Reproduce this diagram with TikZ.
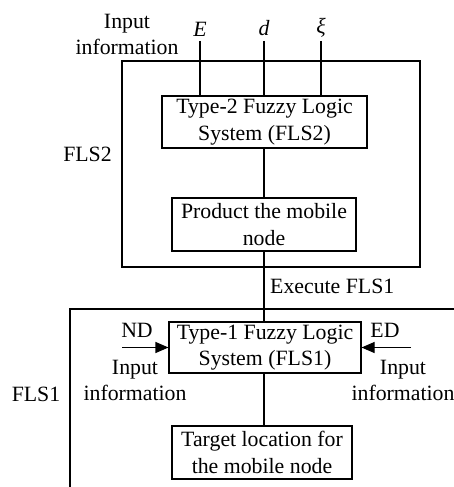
\documentclass[tikz,border=0pt]{standalone}
\usepackage{fontspec}
\setmainfont{Liberation Serif}
\usetikzlibrary{arrows.meta}
\begin{document}
\begin{tikzpicture}[x=1pt,y=-1pt,
  every node/.style={font=\fontsize{21.8}{26.5}\selectfont, inner sep=0pt, align=center},
  fbox/.style={draw, line width=1.1pt, rectangle},
  ln/.style={line width=1.1pt},
  arr/.style={line width=1.1pt, -{Triangle[length=13pt,width=11pt]}}]
\useasboundingbox (0,0) rectangle (454,487);
% outer boxes
\draw[ln] (122,61) rectangle (420,267);
\draw[ln] (470,309) -- (70,309) -- (70,500);
% labels
\node (fls2) at (87.5,154) {FLS2};
\node (fls1) at (36,394) {FLS1};
\node (in2) at (127,34.5) {Input\\information};
% top inputs
\node (E) at (200,29) {\textit{E}};
\node (d) at (264,28) {\textit{d}};
\node (xi) at (321,28) {\textit{ξ}};
\coordinate (Ee) at (200,41);
\coordinate (de) at (264,41);
\coordinate (xie) at (321,41);
% boxes
\node[fbox, minimum width=205pt, minimum height=52pt] (t2) at (264.5,122) {Type-2 Fuzzy Logic\\System (FLS2)};
\node[fbox, minimum width=184pt, minimum height=53pt] (prod) at (264,224.5) {Product the mobile\\node};
\node[fbox, minimum width=192pt, minimum height=51pt] (t1) at (265,347.5) {Type-1 Fuzzy Logic\\System (FLS1)};
\node[fbox, minimum width=180pt, minimum height=53pt] (tgt) at (262,452.5) {Target location for\\the mobile node};
\draw[ln] (Ee) -- (Ee |- t2.north);
\draw[ln] (de) -- (de |- t2.north);
\draw[ln] (xie) -- (xie |- t2.north);
\draw[ln] (t2.south -| de) -- (prod.north -| de);
\draw[ln] (prod.south -| de) -- (t1.north -| de);
\draw[ln] (t1.south -| de) -- (tgt.north -| de);
\node[anchor=west] (exe) at (270,286) {Execute FLS1};
% side inputs
\node (nd) at (137,330) {ND};
\node (ed) at (385,330) {ED};
\coordinate (ndS) at (122,347.5);
\coordinate (edS) at (411,347.5);
\draw[arr] (ndS) -- (t1.west);
\draw[arr] (edS) -- (t1.east);
\node (inL) at (135,380.5) {Input\\information};
\node (inR) at (403,380.5) {Input\\information};
\end{tikzpicture}
\end{document}
